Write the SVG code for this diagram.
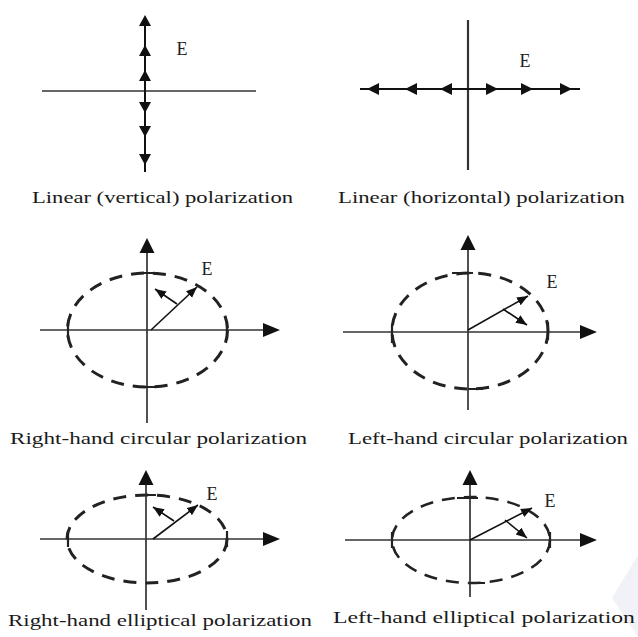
<svg xmlns="http://www.w3.org/2000/svg" width="638" height="637" viewBox="0 0 638 637">
<style>
.axis{stroke:#333;stroke-width:1.7;fill:none}
.thin{stroke:#333;stroke-width:1.3;fill:none}
.field{stroke:#111;stroke-width:2;fill:none}
.vec{stroke:#111;stroke-width:1.6;fill:none;marker-end:url(#ah)}
.ell{stroke:#222;stroke-width:3;fill:none;stroke-dasharray:13 9}
.tick{stroke:#222;stroke-width:2.2;fill:none}
.head{fill:#111;stroke:none}
.lbl{font-family:"Liberation Serif",serif;font-size:18px;fill:#222;text-anchor:middle}
.cap{font-family:"Liberation Serif",serif;font-size:17px;fill:#1a1a1a}
</style>
<defs>
<marker id="ah" markerUnits="userSpaceOnUse" markerWidth="12" markerHeight="10" refX="11" refY="4.5" orient="auto">
<path d="M0,0 L11,4.5 L0,9 z" fill="#111"/>
</marker>
</defs>
<polygon points="638,555 612,598 638,637" fill="#f0f2f8"/>

<g id="linear-vertical">
<line class="thin" x1="42" y1="91" x2="256" y2="91"/>
<line class="field" x1="145" y1="17" x2="145" y2="172"/>
<path class="head" d="M145,15 L139,26 L151,26 z M145,45 L139,56 L151,56 z M145,70 L139,81 L151,81 z M145,113 L139,102 L151,102 z M145,137 L139,126 L151,126 z M145,165 L139,154 L151,154 z"/>
<text class="lbl" x="182" y="55">E</text>
<text class="cap" x="32" y="203" textLength="261" lengthAdjust="spacingAndGlyphs">Linear (vertical) polarization</text>
</g>

<g id="linear-horizontal">
<line class="axis" x1="468" y1="20" x2="468" y2="170" style="stroke-width:2.2"/>
<line class="field" x1="360" y1="89" x2="580" y2="89"/>
<path class="head" d="M367,89 L379,83 L379,95 z M405,89 L417,83 L417,95 z M440,89 L452,83 L452,95 z M498,89 L486,83 L486,95 z M533,89 L521,83 L521,95 z M572,89 L560,83 L560,95 z"/>
<text class="lbl" x="525" y="67">E</text>
<text class="cap" x="338" y="203" textLength="287" lengthAdjust="spacingAndGlyphs">Linear (horizontal) polarization</text>
</g>

<g id="rh-circular">
<ellipse class="ell" cx="147.5" cy="330" rx="80" ry="57"/>
<line class="axis" x1="147" y1="250" x2="147" y2="423"/>
<line class="axis" x1="40" y1="330" x2="264" y2="330"/>
<path class="head" d="M147,238 L139.5,253 L154.5,253 z M280,330 L263,323 L263,337 z"/>
<path class="tick" d="M144,273 H158 M144,387 H155 M68,322 V338 M227,322 V340"/>
<line class="vec" x1="151" y1="330" x2="197" y2="287"/>
<line class="vec" x1="177" y1="304" x2="155" y2="289"/>
<text class="lbl" x="207" y="275">E</text>
<text class="cap" x="10" y="444" textLength="297" lengthAdjust="spacingAndGlyphs">Right-hand circular polarization</text>
</g>

<g id="lh-circular">
<ellipse class="ell" cx="470" cy="331" rx="78" ry="58"/>
<line class="axis" x1="468" y1="247" x2="468" y2="410"/>
<line class="axis" x1="343" y1="332" x2="581" y2="332"/>
<path class="head" d="M468,235 L460.5,250 L475.5,250 z M597,332 L580,325 L580,339 z"/>
<path class="tick" d="M452,273 H473 M468,389 H483 M392,325 V343 M548,322 V340"/>
<line class="vec" x1="468" y1="330" x2="528" y2="296"/>
<line class="vec" x1="503" y1="309" x2="527" y2="325"/>
<text class="lbl" x="552" y="288">E</text>
<text class="cap" x="348" y="444" textLength="280" lengthAdjust="spacingAndGlyphs">Left-hand circular polarization</text>
</g>

<g id="rh-elliptical">
<ellipse class="ell" cx="147" cy="539" rx="80" ry="44"/>
<line class="axis" x1="146" y1="482" x2="146" y2="610"/>
<line class="axis" x1="40" y1="539" x2="264" y2="539"/>
<path class="head" d="M146,470 L138.5,485 L153.5,485 z M280,539 L263,532 L263,546 z"/>
<path class="tick" d="M146,495 H156 M146,583 H153 M68,531 V547 M227,531 V547"/>
<line class="vec" x1="153" y1="539" x2="198" y2="505"/>
<line class="vec" x1="174" y1="521" x2="153" y2="507"/>
<text class="lbl" x="212" y="500">E</text>
<text class="cap" x="8" y="626" textLength="304" lengthAdjust="spacingAndGlyphs">Right-hand elliptical polarization</text>
</g>

<g id="lh-elliptical">
<ellipse class="ell" cx="471" cy="540" rx="79" ry="43" style="stroke-width:2.6"/>
<line class="axis" x1="470" y1="482" x2="470" y2="597"/>
<line class="axis" x1="345" y1="540" x2="581" y2="540"/>
<path class="head" d="M470,470 L462.5,485 L477.5,485 z M597,540 L580,533 L580,547 z"/>
<path class="tick" d="M457,498 H478 M470,583 H485 M392,532 V548 M550,532 V548"/>
<line class="vec" x1="470" y1="540" x2="532" y2="508"/>
<line class="vec" x1="505" y1="520" x2="527" y2="538"/>
<text class="lbl" x="550" y="507">E</text>
<text class="cap" x="333" y="623" textLength="302" lengthAdjust="spacingAndGlyphs">Left-hand elliptical polarization</text>
</g>
</svg>
